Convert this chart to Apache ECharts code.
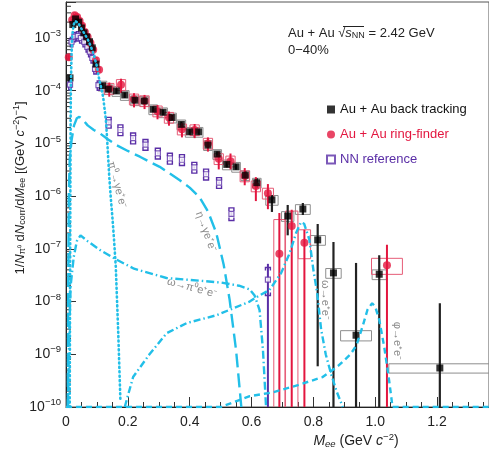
<!DOCTYPE html>
<html><head><meta charset="utf-8">
<script src="https://cdn.jsdelivr.net/npm/echarts@6.0.0/dist/echarts.min.js"></script>
<style>html,body{margin:0;padding:0;background:#fff}#c{width:489px;height:457px}</style>
</head><body><div id="c"></div>
<script>
// ---------- Au+Au back tracking ----------
const btX = [0.013,0.022,0.031,0.041,0.050,0.058,0.067,0.076,0.085,0.097,0.118,0.137,0.163,0.190,0.223,0.253,0.282,0.314,0.343,0.373,0.400,0.429,0.459,0.489,0.520,0.550,0.580,0.617,0.666,0.717,0.766,0.814,0.865,0.938,1.013,1.209];
const btY = [1.75e-4,1.8e-3,2.3e-3,2.0e-3,1.55e-3,1.25e-3,1.05e-3,8.5e-4,6.5e-4,3.2e-4,1.25e-4,1.07e-4,9.9e-5,8.3e-5,6.6e-5,6.4e-5,4.45e-5,3.9e-5,3.1e-5,2.3e-5,1.66e-5,1.66e-5,9.3e-6,6.3e-6,4.0e-6,3.6e-6,2.5e-6,1.8e-6,8.5e-7,4.2e-7,5.7e-7,1.48e-7,3.5e-8,2.3e-9,3.3e-8,5.5e-10];
const btErrUp = [0.1,0.05,0.05,0.05,0.05,0.05,0.05,0.05,0.05,0.05,0.12,0.12,0.12,0.12,0.12,0.12,0.12,0.12,0.12,0.12,0.12,0.12,0.12,0.12,0.12,0.12,0.2,0.22,0.24,0.62,0.3,1.0,2.86,22.5,1.3,15.9];
const btErrDn = [0.1,0.05,0.05,0.05,0.05,0.05,0.05,0.05,0.05,0.05,0.12,0.12,0.12,0.12,0.12,0.12,0.12,0.12,0.12,0.12,0.12,0.12,0.12,0.12,0.12,0.12,0.2,0.2,0.41,0.57,0.23,0.996,1,1,1,1];
const btSys = [0.12,0.12,0.12,0.12,0.12,0.12,0.12,0.12,0.12,0.15,0.21,0.21,0.21,0.21,0.21,0.21,0.21,0.21,0.21,0.21,0.21,0.21,0.21,0.21,0.21,0.21,0.21,0.21,0.21,0.21,0.21,0.21,0.21,0.22,0.21,0.2];
const btHalfW = [0.004,0.004,0.004,0.004,0.004,0.004,0.004,0.004,0.004,0.006,0.014,0.014,0.014,0.014,0.014,0.014,0.014,0.014,0.014,0.014,0.014,0.014,0.014,0.014,0.014,0.014,0.014,0.014,0.02,0.02,0.024,0.025,0.025,0.05,0.023,0.165];

// ---------- Au+Au ring-finder ----------
const rfX = [0.009,0.020,0.028,0.036,0.044,0.052,0.061,0.070,0.079,0.088,0.097,0.107,0.140,0.178,0.220,0.254,0.296,0.333,0.375,0.416,0.459,0.494,0.532,0.578,0.614,0.653,0.690,0.730,0.771,1.038];
const rfY = [4.3e-4,2.2e-3,2.7e-3,2.5e-3,2.1e-3,1.7e-3,1.3e-3,1.05e-3,8.0e-4,6.0e-4,3.8e-4,2.5e-4,1.1e-4,1.3e-4,6.9e-5,6.4e-5,4.1e-5,3.1e-5,1.86e-5,1.8e-5,1.0e-5,5.1e-6,4.6e-6,2.4e-6,1.55e-6,1.13e-6,8.1e-8,2.7e-7,1.3e-7,4.9e-8];
const rfErrUp = [0.1,0.05,0.05,0.05,0.05,0.05,0.05,0.05,0.05,0.05,0.05,0.05,0.3,0.3,0.3,0.3,0.3,0.3,0.3,0.3,0.3,0.37,0.4,0.42,0.48,0.5,4.9,1.04,0.77,1.45];
const rfErrDn = [0.1,0.05,0.05,0.05,0.05,0.05,0.05,0.05,0.05,0.05,0.05,0.05,0.3,0.3,0.3,0.3,0.3,0.3,0.3,0.3,0.3,0.37,0.3,0.33,0.48,0.5,1,1,1,1];
const rfSysUp = [0.12,0.12,0.12,0.12,0.12,0.12,0.12,0.12,0.12,0.12,0.12,0.12,0.25,0.25,0.25,0.25,0.25,0.25,0.25,0.25,0.25,0.25,0.25,0.25,0.25,0.25,3.44,0.93,0.77,0.35];
const rfSysDn = [0.12,0.12,0.12,0.12,0.12,0.12,0.12,0.12,0.12,0.12,0.12,0.12,0.22,0.22,0.22,0.22,0.22,0.22,0.22,0.22,0.22,0.22,0.22,0.22,0.22,0.22,1,1,0.5,0.33];
const rfHalfW = [0.004,0.004,0.004,0.004,0.004,0.004,0.004,0.004,0.004,0.004,0.004,0.004,0.015,0.015,0.015,0.015,0.015,0.015,0.015,0.015,0.015,0.015,0.015,0.015,0.015,0.018,0.018,0.02,0.02,0.05];

// ---------- NN reference ----------
const nnX = [0.013,0.018,0.027,0.038,0.048,0.059,0.069,0.077,0.085,0.094,0.105,0.138,0.176,0.217,0.257,0.297,0.336,0.375,0.415,0.453,0.495,0.535,0.653];
const nnY = [1.3e-4,8.5e-4,1.06e-3,1.1e-3,1.0e-3,8.5e-4,6.8e-4,5.5e-4,4.2e-4,2.6e-4,1.28e-4,2.5e-5,1.8e-5,1.26e-5,9.5e-6,6.5e-6,5.2e-6,4.9e-6,3.5e-6,2.6e-6,1.8e-6,4.6e-7,2.6e-8];
const nnErrUp = [0.05,0.05,0.05,0.05,0.05,0.05,0.05,0.05,0.05,0.05,0.05,0.05,0.05,0.05,0.05,0.05,0.05,0.05,0.05,0.05,0.05,0.1,1.0];
const nnErrDn = [0.05,0.05,0.05,0.05,0.05,0.05,0.05,0.05,0.05,0.05,0.05,0.05,0.05,0.05,0.05,0.05,0.05,0.05,0.05,0.05,0.05,0.1,1];
const nnSysUp = [0.2,0.2,0.2,0.2,0.2,0.2,0.2,0.2,0.2,0.2,0.2,0.25,0.25,0.25,0.25,0.25,0.25,0.25,0.25,0.25,0.25,0.3,0.7];
const nnSysDn = [0.2,0.2,0.2,0.2,0.2,0.2,0.2,0.2,0.2,0.2,0.2,0.22,0.22,0.22,0.22,0.22,0.22,0.22,0.22,0.22,0.22,0.25,0.5];
const nnHalfW = [0.004,0.004,0.004,0.004,0.004,0.004,0.004,0.004,0.004,0.004,0.004,0.008,0.008,0.008,0.008,0.008,0.008,0.008,0.008,0.008,0.008,0.008,0.008];

// ---------- cocktail curves ----------
const pi0X = [0.012,0.013,0.014,0.015,0.016,0.018,0.020,0.025,0.030,0.035,0.040,0.050,0.060,0.070,0.080,0.090,0.100,0.106,0.113,0.120,0.129,0.133,0.140,0.145,0.150,0.155,0.161,0.169,0.176];
const pi0Y = [1e-10,1e-8,1e-6,3e-5,1.5e-4,5e-4,1.1e-3,1.8e-3,2.1e-3,2.1e-3,1.9e-3,1.5e-3,1.2e-3,9.5e-4,7e-4,4.8e-4,2.9e-4,1.8e-4,1.2e-4,7.7e-5,2.8e-5,1.2e-5,2.3e-6,9e-7,4e-7,1.6e-7,4.6e-8,2.5e-9,1.3e-10];
const etaX = [0.006,0.007,0.009,0.012,0.018,0.026,0.035,0.043,0.055,0.070,0.090,0.110,0.135,0.163,0.200,0.239,0.270,0.303,0.335,0.368,0.400,0.432,0.460,0.486,0.510,0.529,0.550,0.567];
const etaY = [1e-10,1e-8,1e-6,5e-6,1.15e-5,2.2e-5,3.0e-5,3.2e-5,2.8e-5,2.2e-5,1.8e-5,1.55e-5,1.2e-5,9.3e-6,7.2e-6,5.6e-6,4.5e-6,3.6e-6,2.7e-6,2.0e-6,1.45e-6,9.5e-7,5e-7,2e-7,5e-8,1.1e-8,1.2e-9,1e-10];
const omDalX = [0.006,0.010,0.015,0.025,0.035,0.047,0.070,0.110,0.160,0.220,0.325,0.430,0.500,0.560,0.594,0.610,0.626,0.637,0.647];
const omDalY = [1e-10,2e-9,2e-8,7e-8,1.4e-7,1.8e-7,1.4e-7,9.5e-8,6.4e-8,4.2e-8,2.8e-8,2.5e-8,2.3e-8,2.0e-8,1.7e-8,1.3e-8,6.9e-9,1.2e-9,1e-10];
const omEEX = [0.190,0.217,0.270,0.325,0.390,0.486,0.540,0.594,0.615,0.658,0.696,0.723,0.744,0.760,0.770,0.787,0.800,0.812,0.825,0.840,0.857,0.875,0.895];
const omEEY = [1e-10,3.7e-10,1e-9,2.5e-9,3.9e-9,5.5e-9,7.4e-9,1e-8,1.2e-8,1.66e-8,3.5e-8,8.2e-8,2e-7,3.2e-7,3e-7,1.5e-7,4e-8,1.5e-8,3e-9,1e-9,4.3e-10,2e-10,1e-10];
const phiX = [0.0,0.500,0.594,0.669,0.750,0.830,0.880,0.920,0.940,0.960,0.975,0.990,1.000,1.013,1.029,1.045,1.056,1.368];
const phiY = [1e-10,1e-10,1.6e-10,1.9e-10,2.6e-10,3.7e-10,6e-10,1e-9,1.5e-9,3.5e-9,7e-9,9.3e-9,8e-9,4.5e-9,1.4e-9,3.2e-10,1e-10,1e-10];

// ---------- axes ----------
const xTickLabels = ['0','0.2','0.4','0.6','0.8','1.0','1.2'];
const xMin = 0, xMax = 1.368, xStep = 0.2;
const yMin = 1e-10, yMax = 4.82e-3;

const FONT = '"Liberation Sans", Arial, Helvetica, sans-serif';
const RED = '#e3163f', PURPLE = '#5a2ea6', CYAN = '#22bfe8', GRAYBOX = '#8e8e8e', REDBOX = '#e65c77', LABEL = '#8a8a8a';
const FLOOR = 1e-12;

const pts = (X, Y) => X.map((x, i) => [x, Y[i]]);
const errData = (X, Y, up, dn) => X.map((x, i) => [x, Math.max(Y[i] * (1 - dn[i]), FLOOR), Y[i] * (1 + up[i])]);
const boxData = (X, Y, up, dn, hw) => X.map((x, i) => [x - hw[i], x + hw[i], Math.max(Y[i] * (1 - dn[i]), FLOOR), Y[i] * (1 + up[i])]);

function renderErr(color, w) {
  return (p, api) => {
    const a = api.coord([api.value(0), api.value(2)]), b = api.coord([api.value(0), api.value(1)]);
    return {type: 'line', shape: {x1: a[0], y1: a[1], x2: b[0], y2: b[1]}, style: {stroke: color, lineWidth: w}};
  };
}
function renderBox(color) {
  return (p, api) => {
    const a = api.coord([api.value(0), api.value(3)]), b = api.coord([api.value(1), api.value(2)]);
    return {type: 'rect', shape: {x: a[0], y: a[1], width: b[0] - a[0], height: b[1] - a[1]}, style: {fill: 'none', stroke: color, lineWidth: 1}};
  };
}
function renderBracket(color) {
  return (p, api) => {
    const x0 = api.value(0), x1 = api.value(1), lo = api.value(2), hi = api.value(3);
    const t0 = api.coord([x0, hi]), t1 = api.coord([x1, hi]), b0 = api.coord([x0, lo]), b1 = api.coord([x1, lo]);
    const L = 3;
    const st = {fill: 'none', stroke: color, lineWidth: 1.4};
    return {type: 'group', children: [
      {type: 'polyline', shape: {points: [[t0[0], t0[1] + L], [t0[0], t0[1]], [t1[0], t1[1]], [t1[0], t1[1] + L]]}, style: st},
      {type: 'polyline', shape: {points: [[b0[0], b0[1] - L], [b0[0], b0[1]], [b1[0], b1[1]], [b1[0], b1[1] - L]]}, style: st}
    ]};
  };
}

const yMinor = [];
for (let e = -10; e <= -3; e++) for (let m = 2; m <= 9; m++) { const v = m * Math.pow(10, e); if (v < yMax) yMinor.push([0, v]); }

function curve(X, Y, dash, extra) {
  return Object.assign({type: 'line', data: pts(X, Y), showSymbol: false, symbol: 'none', smooth: false, clip: true, z: 5,
    lineStyle: {color: CYAN, width: 2.4, type: dash}, silent: true}, extra || {});
}

const chart = echarts.init(document.getElementById('c'), null, {renderer: 'canvas'});
const option = {
  animation: false,
  backgroundColor: '#fff',
  grid: {left: 66, right: -1, top: 2, bottom: 50, show: true, borderColor: '#555', borderWidth: 1},
  xAxis: {
    type: 'value', min: xMin, max: xMax, interval: xStep,
    axisLine: {lineStyle: {color: '#222', width: 1}},
    axisTick: {inside: true, length: 10, lineStyle: {color: '#333'}},
    minorTick: {show: true, splitNumber: 4, length: 5, lineStyle: {color: '#333'}},
    splitLine: {show: false},
    axisLabel: {margin: 8, fontSize: 14, color: '#222', fontFamily: FONT, showMaxLabel: false,
      formatter: v => xTickLabels[Math.round(v / xStep)] || ''}
  },
  yAxis: {
    type: 'log', logBase: 10, min: yMin, max: yMax,
    axisLine: {lineStyle: {color: '#222', width: 1}},
    axisTick: {inside: true, length: 10, lineStyle: {color: '#333'}},
    splitLine: {show: false},
    axisLabel: {margin: 5, color: '#222', fontFamily: FONT,
      formatter: v => { const e = Math.log10(v), r = Math.round(e); if (Math.abs(e - r) > 1e-6) return ''; return '{b|10}{s|' + (r < 0 ? '\u2212' : '') + Math.abs(r) + '}'; },
      rich: {b: {fontSize: 14, color: '#222', fontFamily: FONT}, s: {fontSize: 9.5, color: '#222', fontFamily: FONT, padding: [0, 0, 9, 0]}}
    }
  },
  legend: {
    orient: 'vertical', left: 321, top: 98, itemWidth: 8, itemHeight: 8, itemGap: 12,
    textStyle: {fontSize: 13, fontFamily: FONT},
    data: [
      {name: 'Au + Au back tracking', icon: 'rect', textStyle: {color: '#111'}},
      {name: 'Au + Au ring-finder', icon: 'circle', textStyle: {color: RED}},
      {name: 'NN reference', icon: 'rect', textStyle: {color: PURPLE}}
    ]
  },
  series: [
    {type: 'custom', name: 'yminor', data: yMinor, clip: false, silent: true, z: 3,
      renderItem: (p, api) => { const c = api.coord([0, api.value(1)]); return {type: 'line', shape: {x1: c[0], y1: c[1], x2: c[0] + 5, y2: c[1]}, style: {stroke: '#333', lineWidth: 1}}; }},
    {type: 'custom', name: 'btSys', data: boxData(btX, btY, btSys, btSys, btHalfW), renderItem: renderBox(GRAYBOX), clip: true, silent: true, z: 2},
    {type: 'custom', name: 'rfSys', data: boxData(rfX, rfY, rfSysUp, rfSysDn, rfHalfW), renderItem: renderBox(REDBOX), clip: true, silent: true, z: 2},
    {type: 'custom', name: 'nnSys', data: boxData(nnX, nnY, nnSysUp, nnSysDn, nnHalfW), renderItem: renderBracket(PURPLE), clip: true, silent: true, z: 2},
    {type: 'custom', name: 'nnErr', data: errData(nnX, nnY, nnErrUp, nnErrDn), renderItem: renderErr(PURPLE, 2), clip: true, silent: true, z: 3},
    {type: 'custom', name: 'btErr', data: errData(btX, btY, btErrUp, btErrDn), renderItem: renderErr('#222', 2.2), clip: true, silent: true, z: 3},
    {type: 'custom', name: 'rfErr', data: errData(rfX, rfY, rfErrUp, rfErrDn), renderItem: renderErr(RED, 2), clip: true, silent: true, z: 3},
    {type: 'scatter', name: 'NN reference', data: pts(nnX, nnY), symbol: 'rect', symbolSize: 5, z: 4,
      itemStyle: {color: '#fff', borderColor: PURPLE, borderWidth: 1.2}},
    {type: 'scatter', name: 'Au + Au ring-finder', data: pts(rfX, rfY), symbol: 'circle', symbolSize: 8, z: 4,
      itemStyle: {color: RED}},
    {type: 'scatter', name: 'Au + Au back tracking', data: pts(btX, btY), symbol: 'rect', symbolSize: 7, z: 4,
      itemStyle: {color: '#000'}},
    curve(pi0X, pi0Y, [1, 3.4], {lineStyle: {color: CYAN, width: 2.6, type: [1, 3.4], cap: 'round'}}),
    curve(etaX, etaY, [14, 6]),
    curve(omDalX, omDalY, [8, 3, 1.5, 3]),
    curve(omEEX, omEEY, [7, 3, 1.5, 3]),
    curve(phiX, phiY, [6, 4])
  ],
  graphic: [
    {type: 'text', x: 20, y: 188, rotation: Math.PI / 2, silent: true,
      style: {text: '1/{it|N}{sub|\u03c0\u2070} d{it|N}{sub|corr}/d{it|M}{sub|ee} [(GeV {it|c}{sup|\u22122}){sup|\u22121}]',
        fontSize: 13, fontFamily: FONT, fill: '#222', align: 'center', verticalAlign: 'middle',
        rich: {it: {fontSize: 13, fontStyle: 'italic', fontFamily: FONT, fill: '#222'}, sub: {fontSize: 9, fontFamily: FONT, fill: '#222', padding: [6, 0, 0, 0]}, sup: {fontSize: 9, fontFamily: FONT, fill: '#222', padding: [0, 0, 7, 0]}}}},
    {type: 'text', x: 356, y: 441, silent: true,
      style: {text: '{it|M}{sub|ee} (GeV {it|c}{sup|\u22122})', fontSize: 14, fontFamily: FONT, fill: '#222', align: 'center', verticalAlign: 'middle',
        rich: {it: {fontSize: 14, fontStyle: 'italic', fontFamily: FONT, fill: '#222'}, sub: {fontSize: 9.5, fontStyle: 'italic', fontFamily: FONT, fill: '#222', padding: [6, 0, 0, 0]}, sup: {fontSize: 9.5, fontFamily: FONT, fill: '#222', padding: [0, 0, 7, 0]}}}},
    {type: 'text', x: 288, y: 33, silent: true,
      style: {text: 'Au + Au \u221a{it|s}{sub|NN} = 2.42 GeV', fontSize: 13, fontFamily: FONT, fill: '#222', align: 'left', verticalAlign: 'middle',
        rich: {it: {fontSize: 13, fontStyle: 'italic', fontFamily: FONT, fill: '#222'}, sub: {fontSize: 9, fontFamily: FONT, fill: '#222', padding: [6, 0, 0, 0]}}}},
    {type: 'line', silent: true, shape: {x1: 343, y1: 26.5, x2: 364, y2: 26.5}, style: {stroke: '#222', lineWidth: 1}},
    {type: 'text', x: 288, y: 50, silent: true,
      style: {text: '0\u221240%', fontSize: 13, fontFamily: FONT, fill: '#222', align: 'left', verticalAlign: 'middle'}},
    {type: 'text', x: 117, y: 185, rotation: -75 * Math.PI / 180, silent: true,
      style: {text: '\u03c0\u2070\u2192\u03b3e\u207ae\u207b', fontSize: 11, fontFamily: FONT, fill: LABEL, align: 'center', verticalAlign: 'middle'}},
    {type: 'text', x: 206, y: 232, rotation: -70 * Math.PI / 180, silent: true,
      style: {text: '\u03b7\u2192\u03b3e\u207ae\u207b', fontSize: 11, fontFamily: FONT, fill: LABEL, align: 'center', verticalAlign: 'middle'}},
    {type: 'text', x: 192, y: 288, rotation: -15 * Math.PI / 180, silent: true,
      style: {text: '\u03c9\u2192\u03c0\u2070e\u207ae\u207b', fontSize: 11, fontFamily: FONT, fill: LABEL, align: 'center', verticalAlign: 'middle'}},
    {type: 'text', x: 325, y: 300, rotation: -Math.PI / 2, silent: true,
      style: {text: '\u03c9\u2192e\u207ae\u207b', fontSize: 11, fontFamily: FONT, fill: LABEL, align: 'center', verticalAlign: 'middle'}},
    {type: 'text', x: 397, y: 341, rotation: -Math.PI / 2, silent: true,
      style: {text: '\u03c6\u2192e\u207ae\u207b', fontSize: 11, fontFamily: FONT, fill: LABEL, align: 'center', verticalAlign: 'middle'}}
  ]
};
chart.setOption(option);
</script></body></html>
